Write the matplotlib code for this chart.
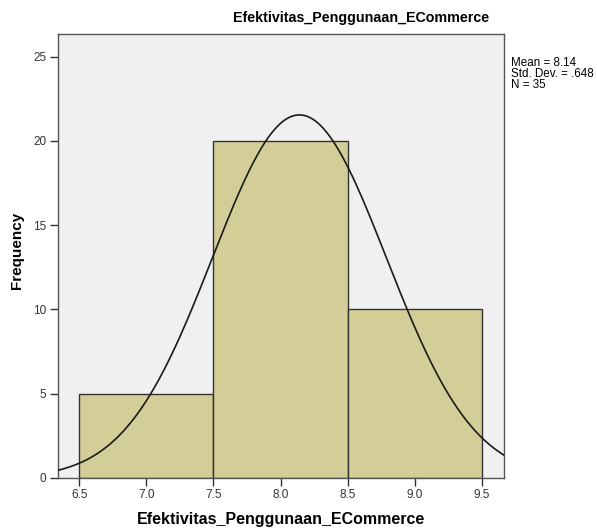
import numpy as np
import matplotlib
matplotlib.use("Agg")
import matplotlib.pyplot as plt

# Data
bin_edges = [6.5, 7.5, 8.5, 9.5]
frequencies = [5, 20, 10]
mean = 8.14
std = 0.648
n = 35
title = "Efektivitas_Penggunaan_ECommerce"
xticks = [6.5, 7.0, 7.5, 8.0, 8.5, 9.0, 9.5]
yticks = [0, 5, 10, 15, 20, 25]

plt.rcParams['font.family'] = ['Liberation Sans', 'DejaVu Sans']

W, H = 597, 529
fig = plt.figure(figsize=(W/100, H/100), dpi=100)
l, r, t, b = 57.5, 504, 34, 478
ax = fig.add_axes([l/W, 1-b/H, (r-l)/W, (b-t)/H])
ax.set_facecolor('#F0F0F0')

lefts = bin_edges[:-1]
widths = np.diff(bin_edges)
ax.bar(lefts, frequencies, width=widths, align='edge', color='#D3CE97',
       edgecolor='#333333', linewidth=1.0, zorder=2)

xlim = (6.338, 9.664)
xs = np.linspace(xlim[0], xlim[1], 400)
binw = widths[0]
ys = n * binw / (std*np.sqrt(2*np.pi)) * np.exp(-0.5*((xs-mean)/std)**2)
ax.plot(xs, ys, color='#1a1a1a', linewidth=1.2, zorder=3)

ax.set_xlim(*xlim)
ax.set_ylim(0, 26.35)
ax.set_xticks(xticks)
ax.set_xticklabels([f"{v:.1f}" for v in xticks])
ax.set_yticks(yticks)
ax.tick_params(direction='out', length=6, width=1, color='#333333',
               labelsize=8.5, labelcolor='#333333', pad=2)
for s in ax.spines.values():
    s.set_color('#555555')
    s.set_linewidth(1.0)

ax.set_xlabel(title, fontsize=11.5, fontweight='bold', labelpad=8)
ax.set_ylabel("Frequency", fontsize=11, fontweight='bold')
ax.yaxis.set_label_coords((17.5 - l)/(r - l), (b - 250)/(b - t))
ax.yaxis.label.set_va('center')
fig.text(361.5/W, 1-18/H, title, fontsize=10.3, fontweight='bold',
         ha='center', va='center')
fig.text(511/W, 1-57/H, f"Mean = {mean}\nStd. Dev. = .648\nN = {n}",
         fontsize=8.4, ha='left', va='top', linespacing=0.9)

fig.savefig("out.png", dpi=100)
